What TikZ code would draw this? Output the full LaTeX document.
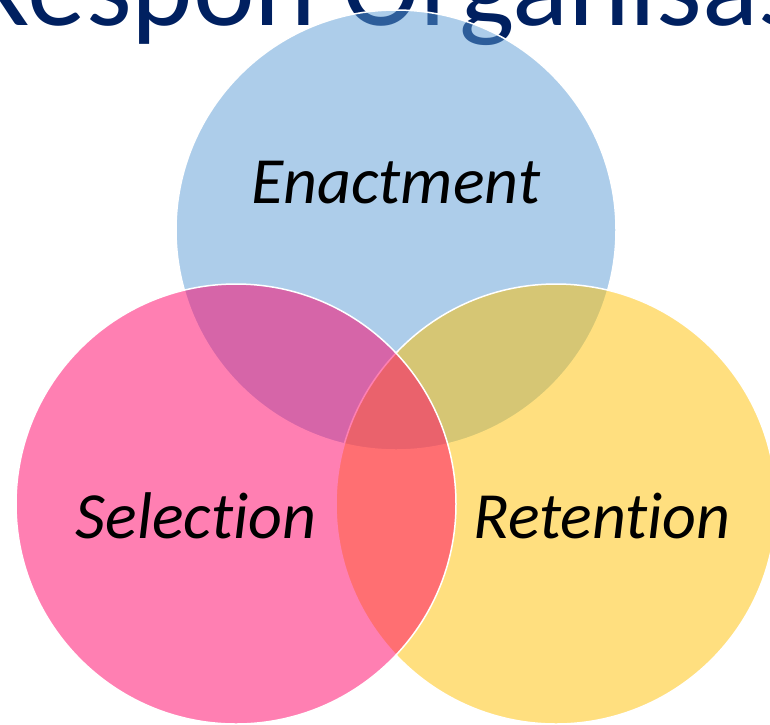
\documentclass[tikz,border=0pt]{standalone}
\usepackage{fontspec}
\setmainfont{Carlito}[RawFeature={-liga;-clig;-calt;-dlig}]
\usepackage{tikz}
\usetikzlibrary{positioning}
\usepackage{xcolor}
\definecolor{navy}{HTML}{002060}
\definecolor{skyblue}{HTML}{5B9BD5}
\definecolor{hotpink}{HTML}{FF0066}
\definecolor{gold}{HTML}{FFC000}
\tikzset{
  venncircle/.style={circle,draw=white,line width=1.5pt,minimum size=440pt,
    inner sep=0pt,fill opacity=0.5,draw opacity=1},
  venntext/.style={font=\fontsize{66}{66}\selectfont\itshape,text=black,
    inner sep=0pt,anchor=base},
  titletext/.style={font=\fontsize{117}{117}\selectfont,text=navy,
    inner sep=0pt,anchor=base west},
}

\begin{document}
\begin{tikzpicture}[x=1pt,y=-1pt]
  \useasboundingbox (0,0) rectangle (770,724);
  \clip (0,0) rectangle (770,724);
  % heading sits behind the circles
  \node[titletext] (title) at (-34,25) {Respon Organisasi};
  \node[venncircle,fill=skyblue] (enact) at (396,230) {};
  \node[venncircle,fill=gold] (retain) at (556,504) {};
  \node[venncircle,fill=hotpink] (select) at (236,504) {};
  \node[venntext] (enactlbl) at (396,203) {Enactment};
  \node[venntext] (selectlbl) at (196,538) {Selection};
  \node[venntext] (retainlbl) at (602,538) {Retention};
\end{tikzpicture}
\end{document}
